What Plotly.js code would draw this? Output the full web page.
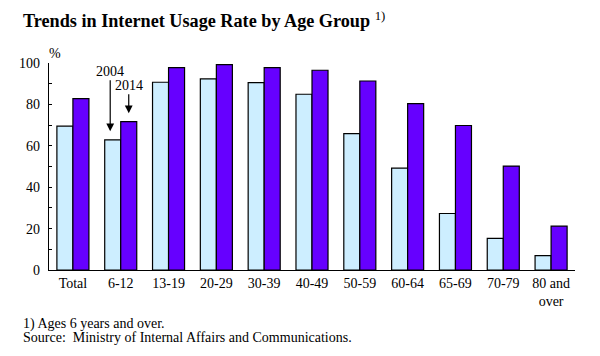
<!DOCTYPE html>
<html>
<head>
<meta charset="utf-8">
<script src="https://cdn.plot.ly/plotly-3.0.1.min.js"></script>
<style>html,body{margin:0;padding:0;background:#fff;}#chart{width:600px;height:356px;}</style>
</head>
<body>
<div id="chart"></div>
<script>
const categories = ["Total","6-12","13-19","20-29","30-39","40-49","50-59","60-64","65-69","70-79","80 and<br>over"];
const values2004 = [69.5, 62.9, 90.7, 92.3, 90.5, 84.9, 65.9, 49.2, 27.3, 15.3, 6.9];
const values2014 = [82.8, 71.7, 97.8, 99.2, 97.8, 96.5, 91.3, 80.4, 69.8, 50.2, 21.2];
const seriesNames = ["2004", "2014"];
const yTicks = [0, 20, 40, 60, 80, 100];

const serif = "Liberation Serif, Times New Roman, serif";
const idx = categories.map((c, i) => i);

const traces = [
  {type: "bar", name: seriesNames[0], x: idx, y: values2004,
   marker: {color: "#cdeeff", line: {color: "#000", width: 1.2}}},
  {type: "bar", name: seriesNames[1], x: idx, y: values2014,
   marker: {color: "#6600ff", line: {color: "#000", width: 1.2}}}
];

const layout = {
  width: 600, height: 356,
  margin: {l: 49, r: 25, t: 63, b: 86},
  paper_bgcolor: "#fff", plot_bgcolor: "#fff",
  showlegend: false,
  barmode: "group", bargap: 0.33, bargroupgap: 0,
  font: {family: serif, color: "#000", size: 14},
  title: {text: "<b>Trends in Internet Usage Rate by Age Group</b> <sup style='font-size:11px'>1)</sup>",
          x: 23/600, xanchor: "left", y: 1 - 21/356, yanchor: "middle",
          font: {family: serif, size: 18.2, color: "#000"}},
  xaxis: {
    range: [-0.5, 10.5], tickmode: "array", tickvals: idx, ticktext: categories,
    showline: true, linecolor: "#000", linewidth: 1.2, ticks: "", showgrid: false, zeroline: false,
    tickfont: {family: serif, size: 14, color: "#000"}, fixedrange: true
  },
  yaxis: {
    range: [0, 100], tickmode: "array", tickvals: yTicks,
    showline: true, linecolor: "#000", linewidth: 1.2, ticks: "inside", ticklen: 3, tickcolor: "#000",
    minor: {dtick: 10, ticks: "inside", ticklen: 3, tickcolor: "#000"},
    showgrid: false, zeroline: false, ticklabelstandoff: 5,
    tickfont: {family: serif, size: 14, color: "#000"}, fixedrange: true
  },
  annotations: [
    {xref: "paper", yref: "paper", x: 0.0114, y: 1.048, xanchor: "center", yanchor: "middle",
     text: "%", showarrow: false, font: {family: serif, size: 14}},
    {xref: "x", yref: "y", x: 0.78, y: values2004[1] + 4.1, ax: 0, ay: -60,
     text: seriesNames[0], showarrow: true, arrowhead: 2, arrowsize: 1.3, arrowwidth: 1.2, arrowcolor: "#000",
     standoff: 0, startstandoff: 0, font: {family: serif, size: 14}},
    {xref: "x", yref: "y", x: 1.1675, y: values2014[1] + 4, ax: 0, ay: -28,
     text: seriesNames[1], showarrow: true, arrowhead: 2, arrowsize: 1.3, arrowwidth: 1.2, arrowcolor: "#000",
     standoff: 0, startstandoff: 0, font: {family: serif, size: 14}},
    {xref: "paper", yref: "paper", x: -0.0532, y: -0.261, xanchor: "left", yanchor: "middle",
     text: "1) Ages 6 years and over.", showarrow: false, align: "left", font: {family: serif, size: 14}},
    {xref: "paper", yref: "paper", x: -0.0532, y: -0.3285, xanchor: "left", yanchor: "middle",
     text: "Source:  Ministry of Internal Affairs and Communications.", showarrow: false, align: "left", font: {family: serif, size: 14}}
  ]
};

Plotly.newPlot("chart", traces, layout, {displayModeBar: false, staticPlot: true});
</script>
</body>
</html>
